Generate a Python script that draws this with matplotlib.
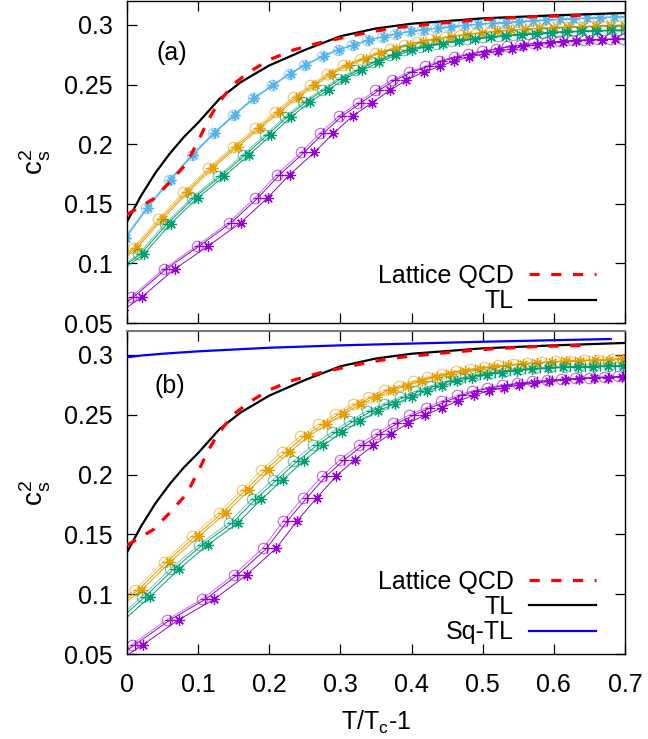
import numpy as np
import matplotlib.pyplot as plt

plt.rcParams['font.family'] = ['Liberation Sans', 'DejaVu Sans']
plt.rcParams['mathtext.fontset'] = 'custom'
plt.rcParams['mathtext.rm'] = 'Liberation Sans'
plt.rcParams['mathtext.default'] = 'regular'

# reference curves (same in both panels)
tl_x = [0, 0.02, 0.04, 0.06, 0.08, 0.1, 0.13, 0.16, 0.2, 0.25, 0.3, 0.35, 0.4, 0.5, 0.6, 0.7]
tl_y = [0.135, 0.157, 0.176, 0.192, 0.206, 0.218, 0.238, 0.252, 0.266, 0.279, 0.2905,
        0.297, 0.301, 0.3055, 0.308, 0.310]

lqcd_x = [0, 0.02, 0.037, 0.06, 0.084, 0.102, 0.114, 0.128, 0.149, 0.173, 0.201, 0.234,
          0.271, 0.309, 0.346, 0.384, 0.45, 0.511, 0.575, 0.645]
lqcd_y = [0.141, 0.148, 0.154, 0.168, 0.184, 0.205, 0.220, 0.234, 0.250, 0.261, 0.271,
          0.279, 0.285, 0.290, 0.2945, 0.298, 0.302, 0.305, 0.307, 0.308]

sqtl_x = [0, 0.02, 0.05, 0.1, 0.2, 0.3, 0.4, 0.5, 0.6, 0.68]
sqtl_y = [0.298, 0.2995, 0.301, 0.303, 0.306, 0.308, 0.3095, 0.311, 0.3123, 0.3133]

# panel (a): circle series of each colour ('+' and '*' runs use a slightly lower Tc)
a_blue_x = [-0.004, 0.0273, 0.0592, 0.0907, 0.121, 0.149, 0.1766, 0.2034, 0.228, 0.249,
            0.274, 0.296, 0.316, 0.337, 0.358, 0.377, 0.396, 0.415, 0.434, 0.453, 0.472,
            0.491, 0.51, 0.529, 0.548, 0.567, 0.586, 0.605, 0.624, 0.643, 0.662, 0.681, 0.70]
a_blue_y = [0.121, 0.1467, 0.170, 0.191, 0.2092, 0.2244, 0.2383, 0.2494, 0.2592, 0.2665,
            0.2737, 0.2793, 0.2828, 0.287, 0.290, 0.2925, 0.2945, 0.296, 0.2973, 0.2985,
            0.2995, 0.3005, 0.3013, 0.302, 0.3027, 0.3034, 0.304, 0.3046, 0.3051, 0.3056,
            0.3061, 0.3065, 0.3069]

a_orange_x = [-0.02, 0.0085, 0.0442, 0.0794, 0.114, 0.149, 0.18, 0.208, 0.234, 0.257, 0.281,
              0.304, 0.328, 0.349, 0.370, 0.389, 0.408, 0.426, 0.447, 0.4685, 0.49, 0.511,
              0.53, 0.55, 0.57, 0.59, 0.61, 0.63, 0.65, 0.67, 0.69]
a_orange_y = [0.099, 0.1133, 0.1375, 0.1597, 0.18, 0.198, 0.2133, 0.2272, 0.2397, 0.2494,
              0.2592, 0.266, 0.2717, 0.2763, 0.280, 0.2828, 0.2855, 0.2878, 0.290, 0.2918,
              0.2932, 0.2945, 0.2955, 0.2963, 0.297, 0.2976, 0.2981, 0.2985, 0.2988, 0.2991,
              0.2994]

a_green_x = [-0.02, 0.016, 0.0535, 0.0911, 0.128, 0.163, 0.194, 0.222, 0.248, 0.274, 0.297,
             0.321, 0.344, 0.368, 0.39, 0.412, 0.434, 0.456, 0.478, 0.50, 0.522, 0.543,
             0.564, 0.585, 0.606, 0.627, 0.648, 0.669, 0.69]
a_green_y = [0.092, 0.1077, 0.1333, 0.155, 0.173, 0.1911, 0.2078, 0.223, 0.2355, 0.2458,
             0.255, 0.2619, 0.2688, 0.2744, 0.2787, 0.2818, 0.2843, 0.2863, 0.288, 0.2895,
             0.2907, 0.2918, 0.2927, 0.2935, 0.2941, 0.2946, 0.295, 0.2954, 0.2957]

a_purple_x = [-0.02, 0.0056, 0.0513, 0.098, 0.1428, 0.180, 0.2104, 0.2446, 0.271, 0.298,
              0.324, 0.349, 0.372, 0.396, 0.419, 0.438, 0.459, 0.480, 0.499, 0.518, 0.534,
              0.553, 0.571, 0.589, 0.607, 0.625, 0.643, 0.661, 0.679, 0.697]
a_purple_y = [0.061, 0.0717, 0.0953, 0.1147, 0.1342, 0.155, 0.1744, 0.193, 0.209, 0.2236,
              0.2345, 0.245, 0.2536, 0.2605, 0.2653, 0.2697, 0.273, 0.2758, 0.278, 0.280,
              0.2819, 0.2833, 0.2845, 0.2855, 0.2863, 0.287, 0.2875, 0.2879, 0.2882, 0.2885]

# panel (b)
b_orange_x = [-0.02, 0.0113, 0.0513, 0.0911, 0.1287, 0.161, 0.189, 0.2175, 0.2432, 0.269,
              0.293, 0.317, 0.339, 0.3606, 0.382, 0.402, 0.422, 0.442, 0.462, 0.482, 0.502,
              0.522, 0.542, 0.562, 0.582, 0.602, 0.622, 0.642, 0.662, 0.682, 0.70]
b_orange_y = [0.089, 0.1036, 0.1272, 0.1486, 0.168, 0.1869, 0.2036, 0.2188, 0.2319, 0.2419,
              0.251, 0.259, 0.2647, 0.2703, 0.2744, 0.2783, 0.2815, 0.2843, 0.2865, 0.2884,
              0.2899, 0.2912, 0.2923, 0.2932, 0.294, 0.2946, 0.2952, 0.2957, 0.2961, 0.2964,
              0.2967]

b_green_x = [-0.02, 0.0207, 0.0606, 0.1006, 0.143, 0.175, 0.2056, 0.234, 0.261, 0.288,
             0.3127, 0.337, 0.3606, 0.384, 0.405, 0.426, 0.447, 0.468, 0.489, 0.51, 0.531,
             0.552, 0.573, 0.594, 0.615, 0.636, 0.657, 0.678, 0.699]
b_green_y = [0.076, 0.098, 0.1208, 0.1411, 0.1597, 0.1792, 0.1958, 0.2113, 0.2244, 0.2355,
             0.2447, 0.253, 0.2592, 0.2647, 0.2697, 0.274, 0.2778, 0.2808, 0.2833, 0.2853,
             0.2868, 0.288, 0.2888, 0.2895, 0.29, 0.2903, 0.2906, 0.2909, 0.2911]

b_purple_x = [-0.02, 0.0066, 0.0559, 0.1052, 0.1499, 0.1907, 0.2197, 0.247, 0.2738, 0.2996,
              0.3254, 0.350, 0.3738, 0.397, 0.42, 0.442, 0.464, 0.485, 0.506, 0.527, 0.548,
              0.569, 0.59, 0.61, 0.63, 0.65, 0.67, 0.69]
b_purple_y = [0.047, 0.0578, 0.0786, 0.0958, 0.1161, 0.1383, 0.1611, 0.1805, 0.1986, 0.2125,
              0.2244, 0.2342, 0.243, 0.2498, 0.2558, 0.2613, 0.2662, 0.27, 0.2727, 0.2748,
              0.2764, 0.2778, 0.2789, 0.2798, 0.2805, 0.2811, 0.2816, 0.282]

# Tc of the 'o', '+', '*' runs relative to each other
a_tc = {'blue': (1.0, 1.001, 1.002), 'orange': (1.0, 1.003, 1.006),
        'green': (1.0, 1.003, 1.0075), 'purple': (1.0, 1.0035, 1.015)}
b_tc = {'orange': (1.0, 1.0046, 1.0093), 'green': (1.0, 1.0046, 1.0115),
        'purple': (1.0, 1.0046, 1.0158)}

colors = {'blue': '#56b4e9', 'orange': '#e69f00', 'green': '#009e73', 'purple': '#9400d3'}

yticks = [0.05, 0.1, 0.15, 0.2, 0.25, 0.3]
ytick_labels = ['0.05', '0.1', '0.15', '0.2', '0.25', '0.3']
xticks = [0, 0.1, 0.2, 0.3, 0.4, 0.5, 0.6, 0.7]
xtick_labels = ['0', '0.1', '0.2', '0.3', '0.4', '0.5', '0.6', '0.7']

FS = 18


def model(ax, x, y, color, ratios):
    x = np.array(x)
    for r, m, a in zip(ratios, ['o', '+', (8, 2, 0)], [0.55, 1.0, 1.0]):
        ax.plot((1 + x) * r - 1, y, color=color, lw=0.7, alpha=a, marker=m,
                ms=7.5, mfc='none', mew=0.9, zorder=2)


def refs(ax, sq=False):
    ax.plot(lqcd_x, lqcd_y, color='red', lw=2.3, ls=(0, (3.2, 3.6)), label='Lattice QCD', zorder=4)
    ax.plot(tl_x, tl_y, color='black', lw=1.6, label='TL', zorder=3)
    if sq:
        ax.plot(sqtl_x, sqtl_y, color='#0000ff', lw=1.6, label='Sq-TL', zorder=3)
    ax.legend(loc='lower right', bbox_to_anchor=(0.942, 0.03), markerfirst=False,
              alignment='right', frameon=False, handlelength=2.7, fontsize=FS,
              borderpad=0, borderaxespad=0, labelspacing=0.05, handletextpad=0.6)


def style(ax):
    ax.set_xlim(0, 0.7)
    ax.set_ylim(0.05, 0.32)
    ax.set_yticks(yticks)
    ax.set_yticklabels(ytick_labels)
    ax.set_xticks(xticks)
    ax.tick_params(direction='in', length=7.5, width=0.9, top=True, right=True,
                   labelsize=FS)
    ax.tick_params(axis='y', pad=10)
    ax.set_ylabel(r'$c_s^2$', fontsize=FS + 2, labelpad=8)
    for s in ax.spines.values():
        s.set_linewidth(1.0)


fig = plt.figure(figsize=(6.48, 7.39), dpi=100)
ax1 = fig.add_axes([0.196, 0.5629, 0.7685, 0.4357])
ax2 = fig.add_axes([0.196, 0.1150, 0.7685, 0.4371])

for name in ['blue', 'orange', 'green', 'purple']:
    model(ax1, globals()['a_' + name + '_x'], globals()['a_' + name + '_y'], colors[name], a_tc[name])
for name in ['orange', 'green', 'purple']:
    model(ax2, globals()['b_' + name + '_x'], globals()['b_' + name + '_y'], colors[name], b_tc[name])

refs(ax1)
refs(ax2, sq=True)
style(ax1)
style(ax2)
ax1.set_xticklabels([])
ax2.set_xticklabels(xtick_labels)
ax2.tick_params(axis='x', pad=14)
ax2.set_xlabel(r'T/T$_c$-1', fontsize=FS, labelpad=8)
ax2.spines['top'].set_color('#777777')
ax2.spines['top'].set_linewidth(1.5)

ax1.text(0.06, 0.84, '(a)', transform=ax1.transAxes, fontsize=FS, va='center')
ax2.text(0.056, 0.83, '(b)', transform=ax2.transAxes, fontsize=FS, va='center')

fig.savefig('out.png', dpi=100)
